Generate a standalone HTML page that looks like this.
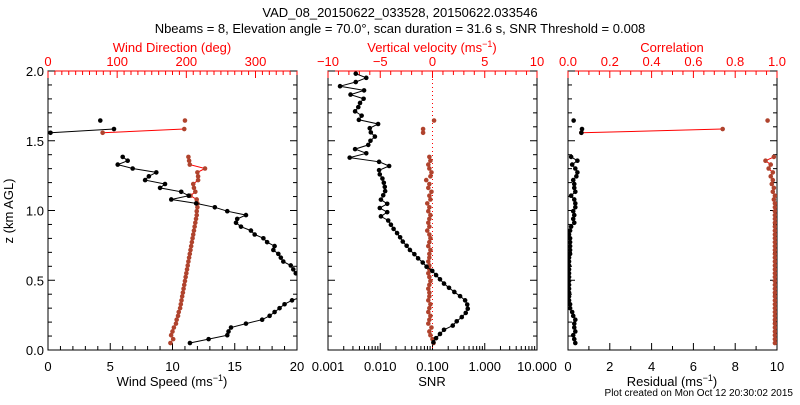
<!DOCTYPE html>
<html><head><meta charset="utf-8"><style>
body{margin:0;background:#fff}
svg text{font-family:"Liberation Sans",sans-serif}
</style></head><body>
<svg id="c" width="800" height="400" viewBox="0 0 800 400" xmlns="http://www.w3.org/2000/svg">
<defs>
<clipPath id="cp1"><rect x="48" y="71" width="249" height="279"/></clipPath>
<clipPath id="cp2"><rect x="328" y="71" width="209" height="279"/></clipPath>
<clipPath id="cp3"><rect x="568" y="71" width="209" height="279"/></clipPath>
</defs>
<text x="400" y="17" font-size="13" text-anchor="middle">VAD_08_20150622_033528, 20150622.033546</text>
<text x="400" y="33" font-size="13" text-anchor="middle">Nbeams = 8, Elevation angle = 70.0°, scan duration = 31.6 s, SNR Threshold = 0.008</text>
<text x="793" y="396" font-size="10" text-anchor="end">Plot created on Mon Oct 12 20:30:02 2015</text>
</svg>
<script>
const gates=[0.050,0.078,0.106,0.133,0.161,0.189,0.217,0.245,0.272,0.300,0.328,0.356,0.384,0.411,0.439,0.467,0.495,0.523,0.550,0.578,0.606,0.634,0.662,0.689,0.717,0.745,0.773,0.801,0.828,0.856,0.884,0.912,0.940,0.967,0.995,1.023,1.051,1.079,1.106,1.134,1.162,1.190,1.218,1.245,1.273,1.301,1.329,1.357,1.384];
const snrZ=[0.055,0.085,0.115,0.145,0.175,0.206,0.236,0.266,0.296,0.326,0.356,0.386,0.416,0.446,0.476,0.507,0.537,0.567,0.597,0.627,0.657,0.687,0.717,0.747,0.777,0.808,0.838,0.868,0.898,0.928,0.958,0.988,1.018,1.048,1.078,1.109,1.139,1.169,1.199,1.229,1.259,1.289,1.319,1.349,1.379,1.410,1.440,1.470,1.500,1.530,1.560,1.590,1.620,1.650,1.680,1.711,1.741,1.771,1.801,1.831,1.861,1.891,1.921,1.951,1.981];
const windSpeed=[11.4,12.9,14.4,14.5,14.7,15.9,17.2,17.8,18.2,18.6,19.0,19.6,20.5,21,21.5,21.8,21.5,20.8,19.9,19.7,19.5,18.9,18.7,18.5,18.1,18.2,17.6,17.3,16.6,16.3,15.5,15.1,15.2,15.9,14.4,13.4,11.9,9.9,11.3,10.7,9.0,9.4,7.8,8.1,8.7,6.8,5.6,6.4,6.0];
const windDir=[177,181,178,180,182,185,186,188,189,191,192,193,194,195,196,197,198,199,200,201,202,203,204,205,206,207,208,209,210,211,212,213,214,215,215,216,216,215,206,213,211,210,217,217,216,227,205,204,203];
const snr=[0.104,0.117,0.139,0.166,0.244,0.291,0.363,0.433,0.473,0.462,0.421,0.337,0.262,0.207,0.166,0.139,0.117,0.099,0.077,0.065,0.053,0.045,0.037,0.032,0.027,0.024,0.021,0.018,0.016,0.0142,0.0103,0.0136,0.0098,0.0136,0.0103,0.0114,0.0124,0.0122,0.0117,0.011,0.0098,0.0095,0.0148,0.0095,0.0026,0.0054,0.0033,0.0059,0.0065,0.0079,0.0066,0.0063,0.0091,0.0039,0.0044,0.0033,0.0038,0.0041,0.0048,0.0027,0.0049,0.0017,0.0034,0.0054,0.0034];
const wVel=[0.1,0.0,-0.2,-0.3,-0.1,-0.4,-0.3,-0.2,-0.4,-0.3,-0.2,-0.4,-0.3,-0.3,-0.4,-0.3,-0.2,-0.3,-0.4,-0.3,-0.3,-0.4,-0.3,-0.3,-0.2,-0.4,-0.3,-0.2,-0.3,-0.5,-0.3,-0.4,-0.3,-0.2,-0.4,-0.3,-0.5,-0.2,-0.3,-0.1,-0.4,-0.3,-0.6,-0.2,-0.1,-0.3,-0.4,-0.2,-0.3];
const residual=[0.35,0.3,0.25,0.35,0.3,0.3,0.35,0.25,0.2,0.1,0.1,0.05,0.05,0.05,0.05,0.05,0.05,0.05,0.05,0.05,0.05,0.05,0.05,0.1,0.1,0.1,0.1,0.1,0.05,0.1,0.15,0.3,0.25,0.3,0.25,0.35,0.35,0.3,0.15,0.35,0.3,0.3,0.25,0.4,0.45,0.35,0.2,0.45,0.15];
const corr=[0.99,0.99,0.99,0.99,0.99,0.99,0.99,0.99,0.99,0.99,0.99,0.99,0.99,0.99,0.99,0.99,0.99,0.99,0.99,0.99,0.99,0.99,0.99,0.99,0.99,0.99,0.99,0.99,0.99,0.99,0.99,0.99,0.99,0.99,0.99,0.99,0.99,0.985,0.99,0.98,0.985,0.975,0.98,0.97,0.98,0.96,0.97,0.945,0.985];
const upperZ=[1.557,1.584,1.645];
const upperSpeed=[0.2,5.3,4.2];
const upperDir=[79,197,198];
const upperW=[-0.9,-0.9,0.15];
const upperRes=[0.64,0.67,0.27];
const upperCorr=[0.064,0.74,0.955];

const svg=document.getElementById('c');const NS='http://www.w3.org/2000/svg';
const RED='#ff0000',BR='#b0432d';
function mk(t,a,p){const e=document.createElementNS(NS,t);for(const k in a)e.setAttribute(k,a[k]);(p||svg).appendChild(e);return e;}
const Y0=350,Y1=71;
const yz=z=>Y0-(z/2)*(Y0-Y1);
const panels=[{x0:48,x1:297},{x0:328,x1:537},{x0:568,x1:777}];
const lin=(p,a,b)=>v=>p.x0+(v-a)/(b-a)*(p.x1-p.x0);
const xs1=lin(panels[0],0,20),xd1=lin(panels[0],0,360);
const xsn=v=>panels[1].x0+(Math.log10(v)+3)/4*(panels[1].x1-panels[1].x0);
const xw=lin(panels[1],-10,10);
const xr=lin(panels[2],0,10),xc=lin(panels[2],0,1);

function txt(x,y,s,col,name,anchor){const t=mk('text',{x:x,y:y,'font-size':13,'text-anchor':anchor||'middle',fill:col||'#000'});t.textContent=s;return t;}
function tick(x1,y1,x2,y2,col){const l=mk('line',{x1,y1,x2,y2,stroke:col,'stroke-width':1});}

panels.forEach((p,i)=>{
  const r=mk('rect',{x:p.x0,y:Y1,width:p.x1-p.x0,height:Y0-Y1,fill:'none',stroke:'#000','stroke-width':1});
  
  
  const tl=mk('line',{x1:p.x0,y1:Y1,x2:p.x1,y2:Y1,stroke:RED});
  
  
  for(let z=0;z<=2.001;z+=0.1){const y=yz(z);const maj=Math.abs(z*2-Math.round(z*2))<1e-6;const L=maj?7:4;
    tick(p.x0,y,p.x0+L,y,'#000');tick(p.x1,y,p.x1-L,y,'#000');}
});
['0.0','0.5','1.0','1.5','2.0'].forEach((s,i)=>txt(44,yz(i*0.5)+5,s,'#000','y-tick-label','end'));
const yt=txt(0,0,'z (km AGL)','#000','y-axis-title');yt.setAttribute('transform','translate(13,211) rotate(-90)');

function bottomTicks(pos,vals,majEvery,labels){vals.forEach(v=>{const x=pos(v);const maj=majEvery(v);tick(x,Y0,x,Y0-(maj?7:4),'#000');});labels.forEach(l=>txt(pos(l[0]),371,l[1],'#000','x-tick-label'));}
function topTicks(pos,vals,majEvery,labels){vals.forEach(v=>{const x=pos(v);const maj=majEvery(v);tick(x,Y1,x,Y1+(maj?7:4),RED);});labels.forEach(l=>txt(pos(l[0]),66,l[1],RED,'top-tick-label'));}
const rng=(a,b,s)=>{const o=[];for(let v=a;v<=b+1e-9;v+=s)o.push(+v.toFixed(6));return o;};
bottomTicks(xs1,rng(0,20,1),v=>v%5===0,[[0,'0'],[5,'5'],[10,'10'],[15,'15'],[20,'20']]);
topTicks(xd1,rng(0,360,10),v=>v%100===0,[[0,'0'],[100,'100'],[200,'200'],[300,'300']]);
const logT=[];for(let d=-3;d<1;d++)for(let k=1;k<10;k++)logT.push(k*Math.pow(10,d));logT.push(10);
bottomTicks(xsn,logT,v=>Math.abs(Math.log10(v)-Math.round(Math.log10(v)))<1e-6,[]);
[[0.001,'0.001'],[0.01,'0.010'],[0.1,'0.100'],[1,'1.000'],[10,'10.000']].forEach(l=>txt(xsn(l[0]),371,l[1],'#000','x-tick-label'));
topTicks(xw,rng(-10,10,1),v=>v%5===0,[[-10,'−10'],[-5,'−5'],[0,'0'],[5,'5'],[10,'10']]);
bottomTicks(xr,rng(0,10,1),v=>v%2===0,[[0,'0'],[2,'2'],[4,'4'],[6,'6'],[8,'8'],[10,'10']]);
topTicks(xc,rng(0,1,0.05),v=>Math.abs(v*5-Math.round(v*5))<1e-6,[[0,'0.0'],[0.2,'0.2'],[0.4,'0.4'],[0.6,'0.6'],[0.8,'0.8'],[1,'1.0']]);

function supTitle(x,y,pre,col,name){const t=mk('text',{x:x,y:y,'font-size':13,'text-anchor':'middle',fill:col});
 t.innerHTML=pre+' (ms<tspan dy="-5" font-size="9">−1</tspan><tspan dy="5">)</tspan>';}
txt(172,52,'Wind Direction (deg)',RED,'top-axis-title-direction');
supTitle(432,52,'Vertical velocity',RED,'top-axis-title-vvel');
txt(672,52,'Correlation',RED,'top-axis-title-correlation');
supTitle(172,386,'Wind Speed',"#000",'x-axis-title-speed');
txt(432,386,'SNR','#000','x-axis-title-snr');
supTitle(672,386,'Residual','#000','x-axis-title-residual');

const zl=mk('line',{x1:xw(0),y1:Y1,x2:xw(0),y2:Y0,stroke:RED,'stroke-dasharray':'1,3'});



function series(xf,vals,zs,lineCol,markCol,clip,name,connect){
  const g=mk('g',{'clip-path':'url(#'+clip+')'});
  
  
  if(connect!==false){const d=vals.map((v,i)=>(i?'L':'M')+xf(v).toFixed(1)+','+yz(zs[i]).toFixed(1)).join('');
   const pl=mk('path',{d:d,fill:'none',stroke:lineCol,'stroke-width':1},g);
   
   }
  vals.forEach((v,i)=>{const c=mk('circle',{cx:xf(v),cy:yz(zs[i]),r:2.3,fill:markCol},g);
   
   });
}
function upper(xf,vals,lineCol,markCol,clip,name){
  series(xf,vals.slice(0,2),upperZ.slice(0,2),lineCol,markCol,clip,name+'-upper');
  series(xf,vals.slice(2),upperZ.slice(2),lineCol,markCol,clip,name+'-upper-single',false);
}
series(xd1,windDir,gates,RED,BR,'cp1','wind-direction-series');
series(xs1,windSpeed,gates,'#000','#000','cp1','wind-speed-series');
upper(xd1,upperDir,RED,BR,'cp1','wind-direction');
upper(xs1,upperSpeed,'#000','#000','cp1','wind-speed');
series(xw,wVel,gates,BR,BR,'cp2','vertical-velocity-series',false);
upper(xw,upperW,BR,BR,'cp2','vertical-velocity');
series(xsn,snr,snrZ,'#000','#000','cp2','snr-series');
series(xc,corr,gates,RED,BR,'cp3','correlation-series');
upper(xc,upperCorr,RED,BR,'cp3','correlation');
series(xr,residual,gates,'#000','#000','cp3','residual-series');
upper(xr,upperRes,'#000','#000','cp3','residual');
</script>
</body></html>
